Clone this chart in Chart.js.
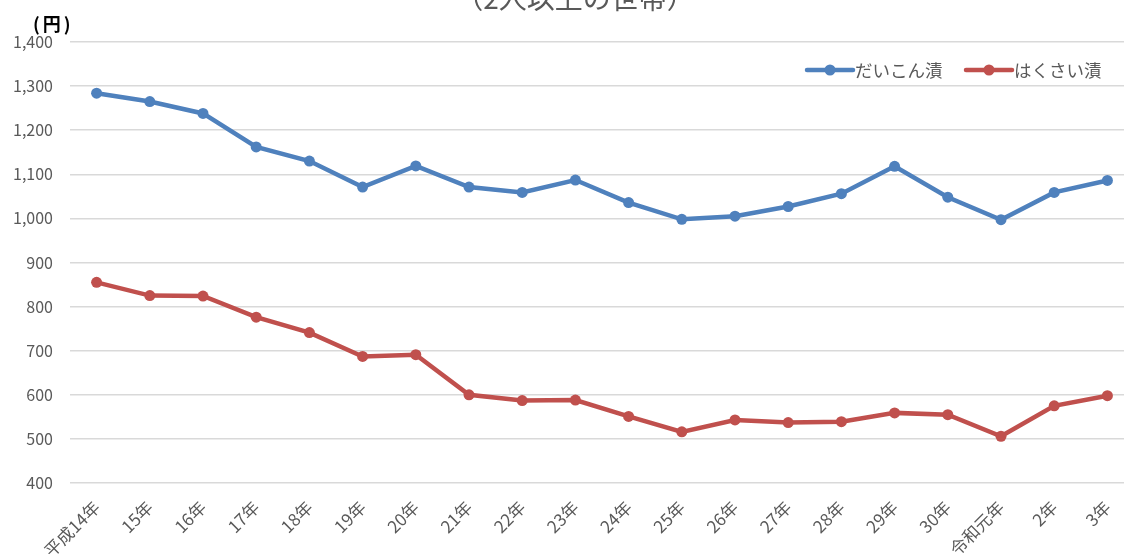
<!DOCTYPE html>
<html lang="ja">
<head>
<meta charset="utf-8">
<script src="https://cdn.jsdelivr.net/npm/chart.js@4.4.1/dist/chart.umd.min.js"></script>
<style>
  html, body { margin: 0; padding: 0; background: #ffffff; overflow: hidden; width: 1124px; height: 554px; }
  #wrap { position: absolute; left: 0; top: 0; width: 1140px; height: 554px; }
</style>
</head>
<body>
<div id="wrap"><canvas id="c" width="1140" height="554"></canvas></div>
<script>
// ---- data ----
const categories = ["平成14年","15年","16年","17年","18年","19年","20年","21年","22年","23年","24年","25年","26年","27年","28年","29年","30年","令和元年","2年","3年"];
const daikonValues = [1284,1265,1238,1162,1130,1071,1119,1071,1059,1087,1036,998,1005,1027,1056,1118,1048,997,1059,1086];
const hakusaiValues = [855,825,824,776,741,687,691,600,587,588,551,516,543,537,539,559,555,506,575,598];
const seriesNames = ["だいこん漬","はくさい漬"];
const yTicks = [400,500,600,700,800,900,1000,1100,1200,1300,1400];
const titleText = "（2人以上の世帯）";
const unitText = "(円)";

const BLUE = "#4f81bd";
const RED = "#c0504d";
const GRAY_TEXT = "#595959";
const FONT = "'Noto Sans CJK JP', 'Noto Sans', sans-serif";

const decorPlugin = {
  id: "decor",
  afterDraw(chart) {
    const ctx = chart.ctx;
    ctx.save();
    // title (cut off at top)
    ctx.fillStyle = GRAY_TEXT;
    ctx.font = "28px " + FONT;
    ctx.textAlign = "center";
    ctx.textBaseline = "alphabetic";
    ctx.fillText(titleText, 575, 9);
    // unit label
    ctx.fillStyle = "#000000";
    ctx.font = "bold 18px " + FONT;
    ctx.textAlign = "left";
    ctx.textBaseline = "middle";
    try { ctx.letterSpacing = "3px"; } catch (e) {}
    ctx.fillText(unitText, 33, 24);
    try { ctx.letterSpacing = "0px"; } catch (e) {}
    // legend
    const items = [
      { name: seriesNames[0], color: BLUE, x0: 807, x1: 853 },
      { name: seriesNames[1], color: RED, x0: 966, x1: 1012 }
    ];
    const ly = 70;
    items.forEach(it => {
      ctx.strokeStyle = it.color;
      ctx.lineWidth = 4.5;
      ctx.lineCap = "round";
      ctx.beginPath();
      ctx.moveTo(it.x0, ly);
      ctx.lineTo(it.x1, ly);
      ctx.stroke();
      ctx.fillStyle = it.color;
      ctx.beginPath();
      ctx.arc((it.x0 + it.x1) / 2, ly, 5.5, 0, Math.PI * 2);
      ctx.fill();
      ctx.fillStyle = GRAY_TEXT;
      ctx.font = "17.5px " + FONT;
      ctx.textAlign = "left";
      ctx.textBaseline = "middle";
      ctx.fillText(it.name, it.x1 + 2, ly);
    });
    ctx.restore();
  }
};

new Chart(document.getElementById("c"), {
  type: "line",
  data: {
    labels: categories,
    datasets: [
      {
        label: seriesNames[0],
        data: daikonValues,
        borderColor: BLUE,
        backgroundColor: BLUE,
        borderWidth: 4.5,
        pointRadius: 5.5,
        pointHoverRadius: 5.5,
        pointBorderWidth: 0,
        pointBackgroundColor: BLUE,
        tension: 0
      },
      {
        label: seriesNames[1],
        data: hakusaiValues,
        borderColor: RED,
        backgroundColor: RED,
        borderWidth: 4.5,
        pointRadius: 5.5,
        pointHoverRadius: 5.5,
        pointBorderWidth: 0,
        pointBackgroundColor: RED,
        tension: 0
      }
    ]
  },
  options: {
    responsive: false,
    animation: false,
    devicePixelRatio: 1,
    layout: { padding: { top: 42, right: 6, left: 0, bottom: 0 } },
    plugins: {
      legend: { display: false },
      title: { display: false },
      tooltip: { enabled: false }
    },
    scales: {
      x: {
        type: "category",
        offset: true,
        grid: { display: false },
        border: { display: false },
        ticks: {
          color: GRAY_TEXT,
          font: { family: FONT, size: 17 },
          maxRotation: 45,
          minRotation: 45,
          autoSkip: false,
          padding: 6
        },
        afterFit(scale) { scale.height = 71; }
      },
      y: {
        min: yTicks[0],
        max: yTicks[yTicks.length - 1],
        grid: { color: "#d9d9d9", lineWidth: 1.5, drawTicks: false },
        border: { display: false },
        afterBuildTicks(scale) { scale.ticks = yTicks.map(v => ({ value: v })); },
        ticks: {
          color: GRAY_TEXT,
          font: { family: FONT, size: 16 },
          padding: 17,
          callback: v => Number(v).toLocaleString("en-US")
        },
        afterFit(scale) { scale.width = 70; }
      }
    }
  },
  plugins: [decorPlugin]
});
</script>
</body>
</html>
